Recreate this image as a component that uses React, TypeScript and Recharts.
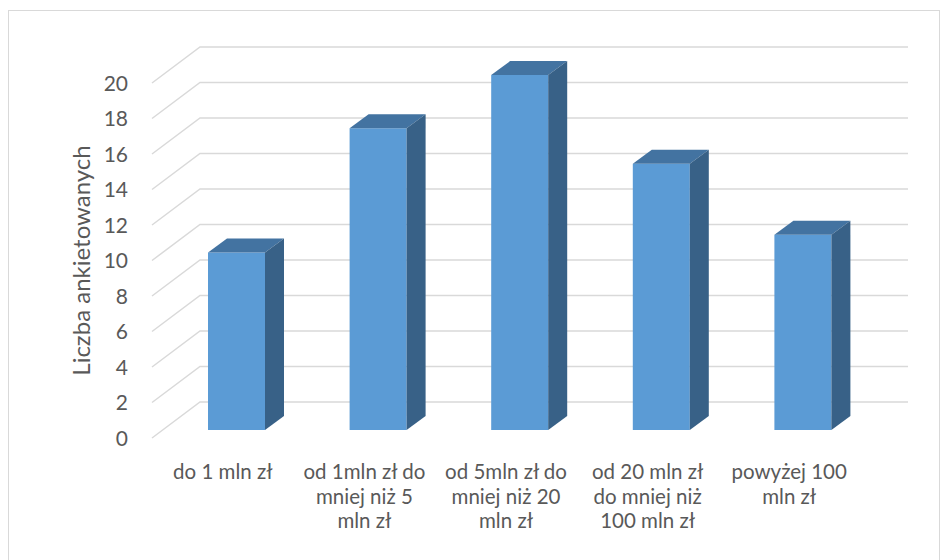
import React from "react";
import { BarChart, Bar, XAxis, YAxis, CartesianGrid } from "recharts";

const categories = [
  "do 1 mln zł",
  "od 1mln zł do mniej niż 5 mln zł",
  "od 5mln zł do mniej niż 20 mln zł",
  "od 20 mln zł do mniej niż 100 mln zł",
  "powyżej 100 mln zł",
];
const categoryLines = [
  ["do 1 mln zł"],
  ["od 1mln zł do", "mniej niż 5", "mln zł"],
  ["od 5mln zł do", "mniej niż 20", "mln zł"],
  ["od 20 mln zł", "do mniej niż", "100 mln zł"],
  ["powyżej 100", "mln zł"],
];
const respondents = [10, 17, 20, 15, 11];
const yTicks = [0, 2, 4, 6, 8, 10, 12, 14, 16, 18, 20];

const chartData = categories.map((name, i) => ({ name, value: respondents[i] }));

const FONT = "Lato, 'Open Sans', sans-serif";
const TEXT = "#595959";
const GRID = "#d9d9d9";

// depth of the back wall relative to the front edge of the floor
const WALL_DX = 48;
const WALL_DY = 36;
// bars sit part way into the depth
const BAR_SHIFT_X = 14;
const BAR_SHIFT_Y = 8;
const BAR_DX = 19;
const BAR_DY = 14;

const GridLine = (p: any) => {
  const { x1, y1, x2 } = p;
  return (
    <polyline
      key={p.key}
      points={`${x1},${y1} ${x1 + WALL_DX},${y1 - WALL_DY} ${x2 + WALL_DX},${y1 - WALL_DY}`}
      fill="none"
      stroke={GRID}
      strokeWidth={1.5}
    />
  );
};

const Bar3D = (p: any) => {
  const { x, y, width, height } = p;
  const left = x + BAR_SHIFT_X;
  const right = left + width;
  const top = y - BAR_SHIFT_Y;
  const bottom = y + height - BAR_SHIFT_Y;
  return (
    <g>
      <rect x={left} y={top} width={width} height={bottom - top} fill="#5b9bd5" />
      <polygon
        points={`${left},${top} ${right},${top} ${right + BAR_DX},${top - BAR_DY} ${left + BAR_DX},${top - BAR_DY}`}
        fill="#4373a1"
      />
      <polygon
        points={`${right},${top} ${right + BAR_DX},${top - BAR_DY} ${right + BAR_DX},${bottom - BAR_DY} ${right},${bottom}`}
        fill="#386187"
      />
    </g>
  );
};

const XTick = (p: any) => {
  const lines = categoryLines[p.index] || [];
  return (
    <text x={p.x} y={p.y + 41} textAnchor="middle" fill={TEXT} fontSize={20.5} fontFamily={FONT}>
      {lines.map((l, i) => (
        <tspan key={i} x={p.x} dy={i === 0 ? 0 : 24.5}>
          {l}
        </tspan>
      ))}
    </text>
  );
};

const YTick = (p: any) => (
  <text x={p.x} y={p.y} dy={7.5} textAnchor="end" fill={TEXT} fontSize={21} fontFamily={FONT}>
    {p.payload.value}
  </text>
);

export default function App() {
  return (
    <div style={{ position: "relative", width: 935, height: 552 }}>
      <div
        style={{
          position: "absolute",
          left: 0,
          top: 2,
          width: 932,
          height: 600,
          border: `1px solid ${GRID}`,
          boxSizing: "border-box",
        }}
      />
      <div style={{ position: "absolute", left: 0, top: 0 }}>
        <BarChart
          width={935}
          height={552}
          data={chartData}
          margin={{ top: 75, right: 83, left: 84, bottom: 62 }}
        >
          <CartesianGrid vertical={false} horizontal={GridLine} />
          <XAxis
            dataKey="name"
            axisLine={false}
            tickLine={false}
            tickSize={0}
            tickMargin={0}
            height={60}
            interval={0}
            tick={XTick}
          />
          <YAxis
            domain={[0, 20]}
            ticks={yTicks}
            axisLine={false}
            tickLine={false}
            tickSize={0}
            tickMargin={24}
            width={60}
            tick={YTick}
            label={{
              value: "Liczba ankietowanych",
              angle: -90,
              position: "insideLeft",
              offset: -11,
              style: { fill: TEXT, fontSize: 24, fontFamily: FONT, textAnchor: "middle" },
            }}
          />
          <Bar dataKey="value" barSize={57} shape={Bar3D} isAnimationActive={false} />
        </BarChart>
      </div>
    </div>
  );
}
